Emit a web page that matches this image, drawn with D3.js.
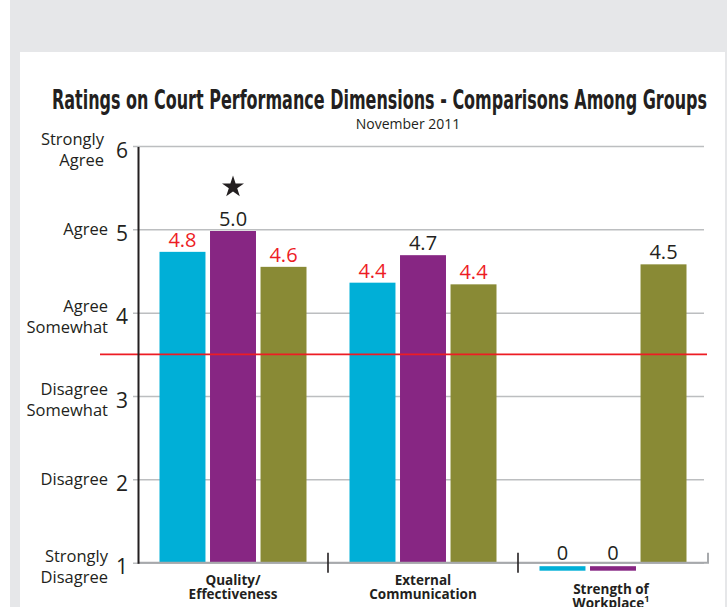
<!DOCTYPE html>
<html>
<head>
<meta charset="utf-8">
<script src="https://cdn.jsdelivr.net/npm/d3@7"></script>
<style>
  html, body { margin: 0; padding: 0; background: #ffffff; }
  svg { display: block; }
</style>
</head>
<body>
<svg id="chart" width="727" height="607"></svg>
<script>
// ---- data ----
const categories = ["Quality/|Effectiveness", "External|Communication", "Strength of|Workplace"];
const seriesNames = ["Group A", "Group B", "Group C"];
const seriesColors = ["#00afd7", "#872683", "#898a35"];
// bar heights (rows = categories, cols = series)
const barValues = [
  [4.73, 4.98, 4.55],
  [4.36, 4.69, 4.34],
  [0, 0, 4.58]
];
// printed value labels
const valueLabels = [
  ["4.8", "5.0", "4.6"],
  ["4.4", "4.7", "4.4"],
  ["0", "0", "4.5"]
];
const labelIsRed = [
  [true, false, true],
  [true, false, true],
  [false, false, false]
];
const yTicks = [1, 2, 3, 4, 5, 6];
const yTickText = ["Strongly|Disagree", "Disagree", "Disagree|Somewhat", "Agree|Somewhat", "Agree", "Strongly|Agree"];
const neutralValue = 3.5;
const title = "Ratings on Court Performance Dimensions - Comparisons Among Groups";
const subtitle = "November 2011";

// ---- drawing ----
const svg = d3.select("#chart");
const FONT = "'Open Sans', 'Noto Sans', sans-serif";
const TXT = "#231f20";

// background frame
svg.append("rect").attr("x", 10).attr("y", 0).attr("width", 717).attr("height", 607).attr("fill", "#e6e7e9");
svg.append("rect").attr("x", 20).attr("y", 52).attr("width", 705).attr("height", 555).attr("fill", "#ffffff");

const y = d3.scaleLinear().domain([1, 6]).range([562.7, 146]);
const x0 = d3.scaleBand().domain(categories).range([138, 708]);
const x1 = d3.scaleBand().domain(seriesNames).range([0, 147]).paddingInner(0.09);
const groupOffset = (x0.bandwidth() - 147) / 2;

// gridlines + numeric ticks via axis
const axis = d3.axisLeft(y).tickValues(yTicks).tickSize(-(704 - 133)).tickPadding(5).tickFormat(d3.format("d"));
const gAxis = svg.append("g").attr("transform", "translate(133,0)").call(axis);
gAxis.select(".domain").remove();
gAxis.selectAll(".tick line").attr("stroke", "#bcbec0").attr("stroke-width", 1.5);
gAxis.selectAll(".tick text")
  .attr("font-family", FONT).attr("font-size", 21).attr("fill", TXT)
  .attr("dy", null).attr("y", 11);

// descriptive tick labels
yTicks.forEach((t, i) => {
  const lines = yTickText[i].split("|");
  const xr = t === 6 ? 104 : 108;
  const txt = svg.append("text").attr("font-family", FONT).attr("font-size", 16.5)
    .attr("fill", TXT).attr("text-anchor", "end");
  if (lines.length === 1) {
    txt.append("tspan").attr("x", xr).attr("y", y(t) + 6).text(lines[0]);
  } else {
    txt.append("tspan").attr("x", xr).attr("y", y(t) - 1).text(lines[0]);
    txt.append("tspan").attr("x", xr).attr("y", y(t) + 20).text(lines[1]);
  }
});

// bars
categories.forEach((c, ci) => {
  const g = svg.append("g").attr("transform", `translate(${x0(c) + groupOffset},0)`);
  seriesNames.forEach((s, si) => {
    const v = barValues[ci][si];
    const bx = x1(s), bw = x1.bandwidth();
    if (v > 0) {
      g.append("rect").attr("x", bx).attr("width", bw)
        .attr("y", y(v)).attr("height", y(1) - y(v)).attr("fill", seriesColors[si]);
    } else {
      g.append("rect").attr("x", bx).attr("width", bw)
        .attr("y", y(1) + 3.5).attr("height", 4.5).attr("fill", seriesColors[si]);
    }
    const ly = v > 0 ? y(v) - 5 : y(1) - 3;
    g.append("text").attr("x", bx + bw / 2).attr("y", ly)
      .attr("text-anchor", "middle").attr("font-family", FONT).attr("font-size", 20)
      .attr("fill", labelIsRed[ci][si] ? "#ed1c24" : TXT)
      .text(valueLabels[ci][si]);
  });
});

// star above highest bar of first group
{
  const c = categories[0], s = seriesNames[1];
  const cx = x0(c) + groupOffset + x1(s) + x1.bandwidth() / 2;
  svg.append("path").attr("d", d3.symbol().type(d3.symbolStar).size(150)())
    .attr("transform", `translate(${cx},${y(barValues[0][1]) - 44})`)
    .attr("fill", TXT);
}

// neutral red line
svg.append("line").attr("x1", 100).attr("x2", 707).attr("y1", y(neutralValue)).attr("y2", y(neutralValue))
  .attr("stroke", "#ed1c24").attr("stroke-width", 1.6);

// baseline with right upturn
svg.append("path")
  .attr("d", `M138,${y(1)} H708 V${y(1) - 10}`)
  .attr("fill", "none").attr("stroke", "#a7a9ac").attr("stroke-width", 2);

// y axis line
svg.append("line").attr("x1", 138.5).attr("x2", 138.5).attr("y1", y(6) + 1).attr("y2", y(1) + 1)
  .attr("stroke", TXT).attr("stroke-width", 2);

// category separators
categories.slice(1).forEach(c => {
  svg.append("line").attr("x1", x0(c)).attr("x2", x0(c)).attr("y1", y(1) - 10).attr("y2", y(1) + 10)
    .attr("stroke", TXT).attr("stroke-width", 1.6);
});

// category labels
categories.forEach((c, ci) => {
  const lines = c.split("|");
  const cx = x0(c) + x0.bandwidth() / 2 + (ci === 2 ? -2 : 0);
  const base = ci === 2 ? 594 : 585;
  const t = svg.append("text").attr("font-family", FONT).attr("font-weight", "bold")
    .attr("font-size", 13.5).attr("fill", TXT).attr("text-anchor", "middle");
  t.append("tspan").attr("x", cx).attr("y", base).text(lines[0]);
  t.append("tspan").attr("x", cx).attr("y", base + 13.5).text(lines[1]);
  if (ci === 2) {
    t.append("tspan").attr("font-size", 9).attr("dy", -6).text("1");
  }
});

// titles
svg.append("text").attr("x", 379.5).attr("y", 109).attr("text-anchor", "middle")
  .attr("font-family", "'Liberation Sans Narrow', 'DejaVu Sans Condensed', 'Open Sans', sans-serif")
  .attr("font-weight", "bold").attr("font-stretch", "condensed").attr("font-size", 26)
  .attr("fill", TXT).attr("textLength", 655).attr("lengthAdjust", "spacingAndGlyphs")
  .text(title);
svg.append("text").attr("x", 408).attr("y", 129).attr("text-anchor", "middle")
  .attr("font-family", FONT).attr("font-size", 14).attr("fill", TXT)
  .text(subtitle);
</script>
</body>
</html>
